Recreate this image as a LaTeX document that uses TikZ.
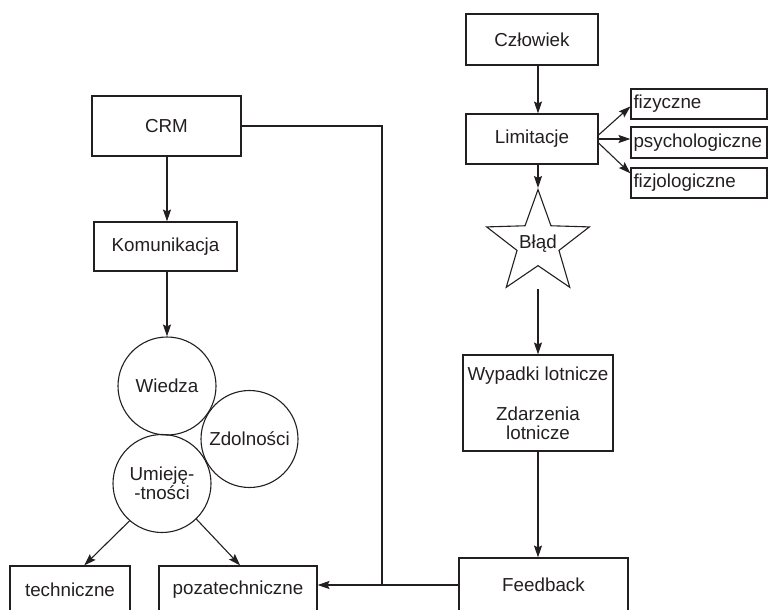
\documentclass[tikz,border=0pt]{standalone}
\usepackage{fontspec}
\setmainfont{Liberation Sans}
\usetikzlibrary{shapes.geometric,arrows.meta}
\definecolor{ink}{RGB}{35,31,32}
\begin{document}
\begin{tikzpicture}[x=1pt,y=-1pt,line width=1.1pt,draw=ink,text=ink,
  font=\fontsize{18.8}{19}\selectfont,
  >={Stealth[length=12pt,width=8pt,inset=2pt]},
  box/.style={draw,rectangle,inner sep=0pt,align=center},
  circ/.style={draw,circle,inner sep=0pt,minimum size=98pt,align=center},
  sbox/.style={draw,rectangle,minimum width=136pt,text width=131pt,inner xsep=2.5pt,inner ysep=0pt,align=left}]
\clip (0,0) rectangle (769,610);
% right column
\node[box,minimum width=132pt,minimum height=51pt] (czl) at (532,39.5) {Człowiek};
\node[box,minimum width=132pt,minimum height=50pt] (lim) at (532,139) {Limitacje};
\node[draw,star,star points=5,star point ratio=2.45,minimum size=108pt,inner sep=0pt] (blad) at (538,243.6) {};
\node (bladt) at (538,244) {Błąd};
\coordinate (sb) at (538,289);
\node[box,minimum width=150pt,minimum height=96pt] (wyp) at (538,403) {Wypadki lotnicze\\[21pt]Zdarzenia\\lotnicze};
\node[box,minimum width=169pt,minimum height=54pt] (fb) at (543.5,585) {Feedback};
\node[sbox,minimum height=30pt] (fiz) at (699,104) {fizyczne};
\node[sbox,minimum height=31pt] (psy) at (699,142.5) {psychologiczne};
\node[sbox,minimum height=30pt] (fzj) at (699,183) {fizjologiczne};
% left column
\node[box,minimum width=149pt,minimum height=60pt] (crm) at (166.5,126) {CRM};
\node[box,minimum width=143pt,minimum height=49pt] (kom) at (165.5,246.5) {Komunikacja};
\node[circ] (wie) at (167,386) {Wiedza};
\node[circ,minimum size=97pt] (zd) at (249.5,439) {Zdolności};
\node[circ] (um) at (162,483.5) {Umieję-\\-tności};
\node[box,minimum width=120pt,minimum height=48pt] (tech) at (70,590) {techniczne};
\node[box,minimum width=158pt,minimum height=48pt] (poza) at (238,590) {pozatechniczne};
\coordinate (jn) at (382,585);
% connectors
\draw[->] (czl.south -| blad) -- (lim.north -| blad);
\draw[->] (lim.south -| blad) -- (blad.north);
\draw[->] (sb) -- (wyp.north -| sb);
\draw[->] (wyp.south) -- (fb.north -| wyp.south);
\draw[->] ([yshift=4pt]lim.east) -- (fiz.182.5);
\draw[->] (lim.east) -- (psy.west |- lim.east);
\draw[->] ([yshift=-4pt]lim.east) -- (fzj.172.5);
\draw[->] (crm.south -| wie) -- (kom.north -| wie);
\draw[->] (kom.south -| wie) -- (wie.north);
\draw[->] (um.229) -- (tech.60);
\draw[->] (um.-46) -- (poza.85);
\draw (crm.east) -| (jn);
\draw[->] (fb.west) -- (fb.west -| poza.east);
\end{tikzpicture}
\end{document}
